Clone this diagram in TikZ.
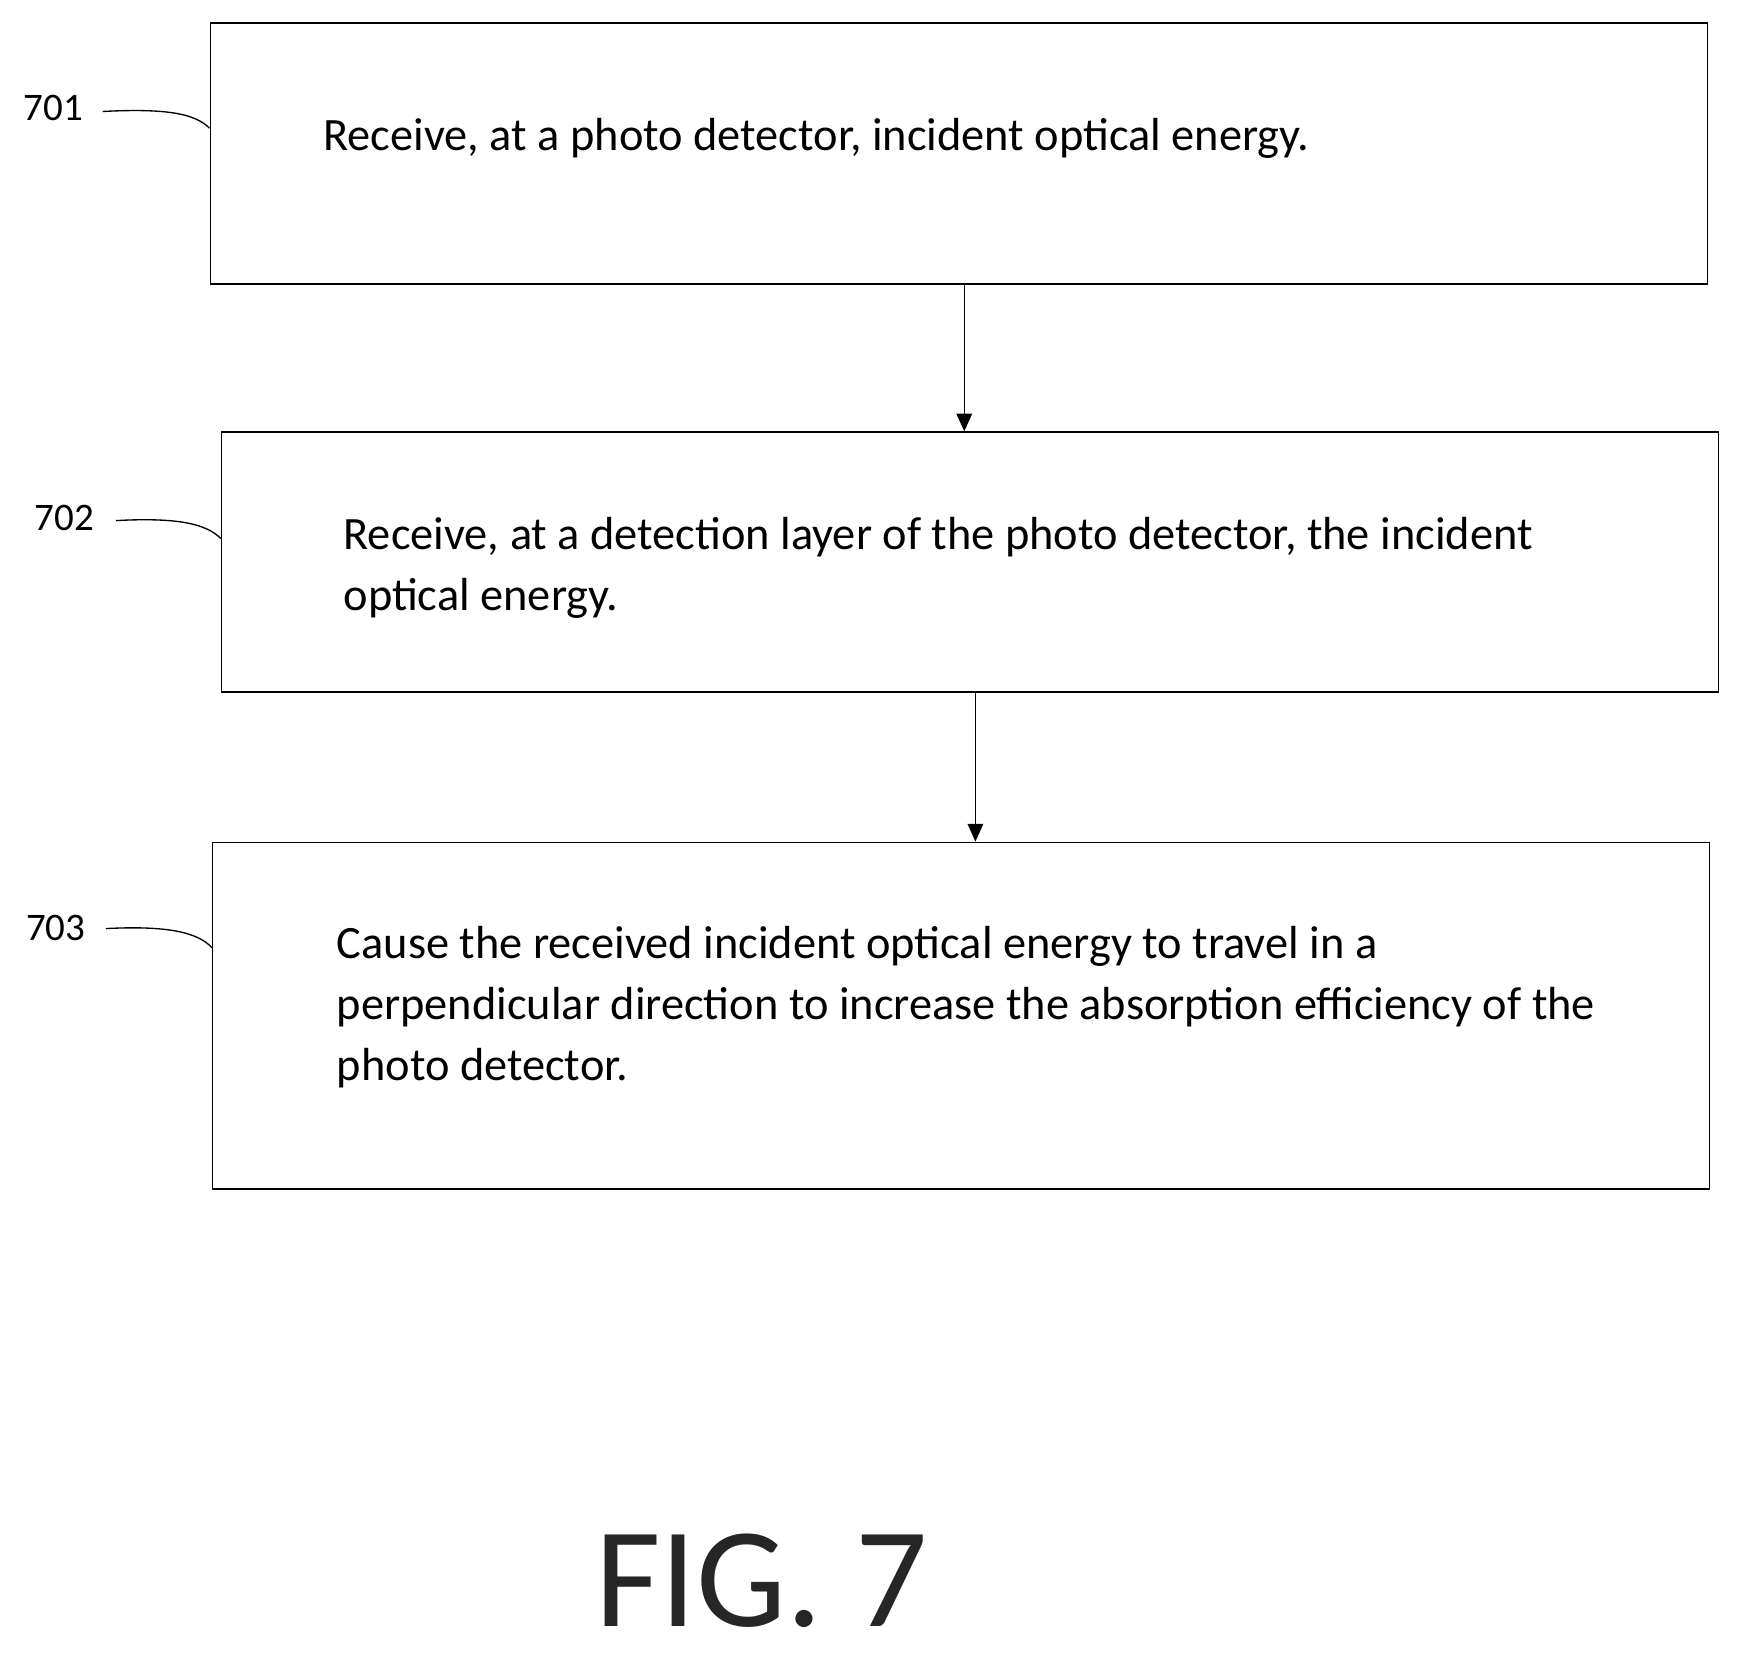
\documentclass[tikz,border=0pt]{standalone}
\usepackage{fontspec}
\setmainfont{Carlito}
\usetikzlibrary{arrows.meta}
\begin{document}
\begin{tikzpicture}[x=1pt,y=-1pt,
 box/.style={draw,line width=1.3pt,inner sep=0pt,anchor=north west},
 txt/.style={anchor=north west,align=left,inner sep=0pt,font=\fontsize{41.6}{54.5}\selectfont},
 lab/.style={font=\fontsize{35}{36}\selectfont,inner sep=0pt},
 arr/.style={line width=1.3pt,-{Triangle[length=16pt,width=14pt]}},
 lead/.style={line width=1.2pt}]
\useasboundingbox (0,0) rectangle (1560,1492);
\node[box,minimum width=1343pt,minimum height=234pt] (b1) at (188,20) {};
\node[box,minimum width=1343pt,minimum height=233pt] (b2) at (198,387) {};
\node[box,minimum width=1343pt,minimum height=311pt] (b3) at (190,755) {};
\node[txt] (t1) at (290,106) {Receive, at a photo detector, incident optical energy.};
\node[txt] (t2) at (308,464) {Receive, at a detection layer of the photo detector, the incident\\optical energy.};
\node[txt] (t3) at (302,831) {Cause the received incident optical energy to travel in a\\perpendicular direction to increase the absorption efficiency of the\\photo detector.};
\draw[arr] (b1.south -| 865,0) -- (b2.north -| 865,0);
\draw[arr] (b2.south -| 875,0) -- (b3.north -| 875,0);
\node[lab] (l1) at (48,97) {701};
\node[lab] (l2) at (58,465) {702};
\node[lab] (l3) at (50,832) {703};
\coordinate (c1) at (188,115);
\coordinate (c2) at (198,483);
\coordinate (c3) at (190,850);
\draw[lead] (92,100) .. controls (150,97) and (175,102) .. (c1);
\draw[lead] (104,467) .. controls (160,464) and (185,470) .. (c2);
\draw[lead] (95,833) .. controls (152,830) and (178,837) .. (c3);
\node[font=\fontsize{128}{128}\selectfont,inner sep=0pt,text=black!85] (fig) at (683,1418) {FIG. 7};
\end{tikzpicture}
\end{document}
